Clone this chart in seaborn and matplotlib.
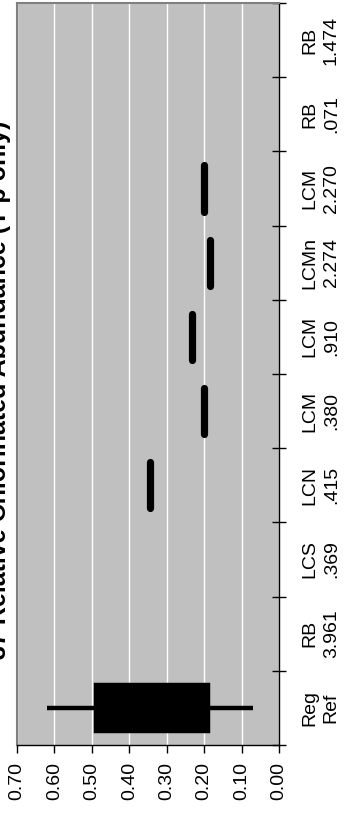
import numpy as np
import pandas as pd
import seaborn as sns
import matplotlib.pyplot as plt

# category labels, left to right on the original (unrotated) chart
sample_types = ["Reg", "RB", "LCS", "LCN", "LCM", "LCM", "LCMn", "LCM", "RB", "RB"]
sample_ids = ["Ref", "3.961", ".369", ".415", ".380", ".910", "2.274", "2.270", ".071", "1.474"]

# observed relative abundance values per category (empty = no data)
reg_ref_values = [0.07, 0.19, 0.32, 0.49, 0.62]
values_per_cat = [
    reg_ref_values,
    [],
    [],
    [0.345],
    [0.20],
    [0.232],
    [0.185],
    [0.20],
    [],
    [],
]

value_ticks = [0.0, 0.1, 0.2, 0.3, 0.4, 0.5, 0.6, 0.7]
title = "37 Relative Chlorinated Abundance (T p only)"

labels = [f"{t}\n{i}" for t, i in zip(sample_types, sample_ids)]
rows = []
for lab, vals in zip(labels, values_per_cat):
    for v in vals:
        rows.append({"label": lab, "value": v})
df = pd.DataFrame(rows)

plt.rcParams['font.family'] = ['Liberation Sans', 'DejaVu Sans']

fig = plt.figure(figsize=(3.51, 8.14), dpi=100)
ax = fig.add_axes([17 / 351, 69 / 814, 262 / 351, 742 / 814])

# top of the rotated chart is the last category
order = labels[::-1]
sns.boxplot(data=df, x="value", y="label", order=order, orient="h",
            width=0.62, color="black", linecolor="black", linewidth=3.2,
            showcaps=False, fliersize=0, ax=ax, zorder=3)

# single-value boxes collapse to a thick rounded bar
for p in ax.patches:
    ext = p.get_path().get_extents()
    p.set_zorder(3)
    if ext.width < 1e-9:
        p.set_linewidth(5.2)
        p.set_capstyle("round")
        p.set_joinstyle("round")

ax.set_facecolor("#c0c0c0")
ax.set_xlim(0.70, 0.0)
ax.set_ylim(len(labels) - 0.5, -0.5)
ax.set_xticks(value_ticks)
ax.set_xticklabels([f"{v:.2f}" for v in value_ticks], rotation=90, fontsize=14)
ax.xaxis.grid(True, color="white", linewidth=1)
ax.set_axisbelow(True)

# category ticks sit on band boundaries, labels at band centres
ax.set_yticks(np.arange(-0.5, len(labels), 1))
ax.set_yticklabels([])
ax.set_yticks(np.arange(len(labels)), minor=True)
ax.set_yticklabels(order, minor=True, rotation=90, fontsize=14,
                   ha="left", va="center", multialignment="center",
                   linespacing=1.35)
ax.tick_params(axis="y", which="major", left=False, right=True,
               direction="inout", length=9.5, width=1)
ax.tick_params(axis="y", which="minor", left=False, right=False,
               labelleft=False, labelright=True, length=0, pad=16)
ax.tick_params(axis="x", which="major", direction="out", length=6, width=1, pad=6)

ax.set_xlabel("")
ax.set_ylabel("")
for side in ["left", "top"]:
    ax.spines[side].set_color("#808080")
    ax.spines[side].set_linewidth(1.5)
for side in ["right", "bottom"]:
    ax.spines[side].set_color("black")
    ax.spines[side].set_linewidth(1)

fig.text(11 / 351, 1 - 390 / 814, title, rotation=90, ha="right", va="center",
         fontsize=18, fontweight="bold")

fig.savefig("out.png", dpi=100)
